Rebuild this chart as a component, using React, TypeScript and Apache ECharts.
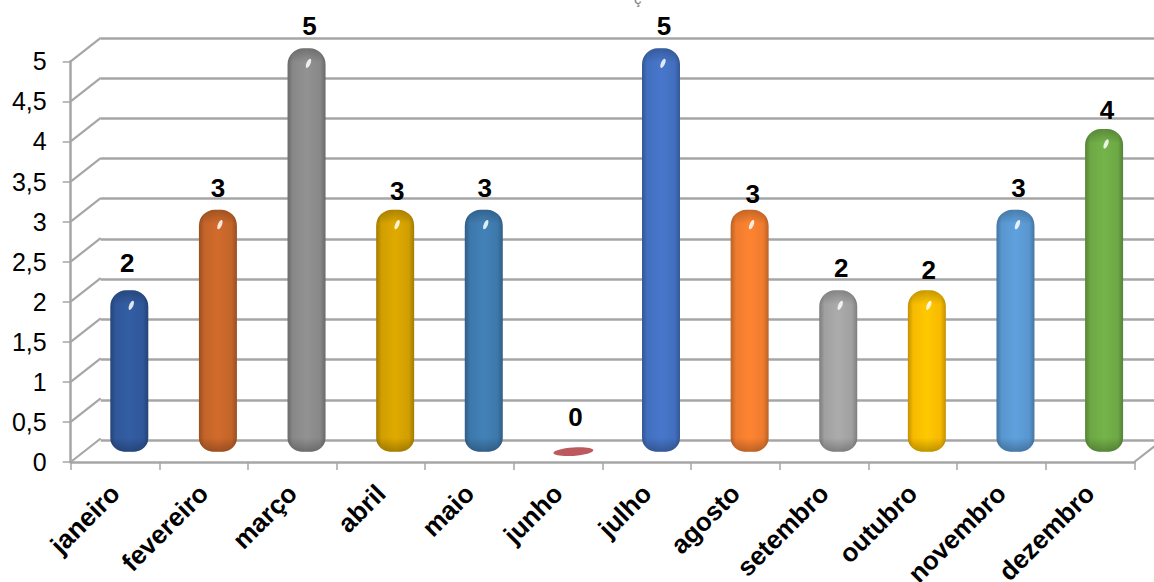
import React, { useEffect, useRef } from "react";
import * as echarts from "echarts";

const months = ["janeiro", "fevereiro", "março", "abril", "maio", "junho", "julho", "agosto", "setembro", "outubro", "novembro", "dezembro"];
const counts = [2, 3, 5, 3, 3, 0, 5, 3, 2, 2, 3, 4];
const barColors = ["#315a9e", "#c9672a", "#8c8c8c", "#d6a300", "#3f7cb0", "#bd5a60", "#4472c4", "#f57f2f", "#a5a5a5", "#ffc000", "#5b9bd5", "#70ad47"];
const wallTicks = [0, 0.5, 1, 1.5, 2, 2.5, 3, 3.5, 4, 4.5, 5];
// Small per-label nudges [dx, dy] that follow the depth of the 3D look.
const labelNudges = [[-2, -9], [0, -4], [3, -4], [2, -1], [1, -4], [3, -17], [3, -4], [3, 2], [3, -4], [2, -2], [3, -4], [3, -1]];

const AXIS_GRAY = "#a6a6a6";
const DEPTH_X = 30;
const DEPTH_Y = -23.5;

function shade(hex: string, factor: number): string {
  const n = parseInt(hex.slice(1), 16);
  const ch = (v: number) => Math.max(0, Math.min(255, Math.round(v * factor)));
  return `rgb(${ch((n >> 16) & 255)},${ch((n >> 8) & 255)},${ch(n & 255)})`;
}

function barFill(hex: string) {
  return new echarts.graphic.LinearGradient(0, 0, 1, 0, [
    { offset: 0, color: shade(hex, 0.76) },
    { offset: 0.14, color: shade(hex, 0.97) },
    { offset: 0.5, color: shade(hex, 1.04) },
    { offset: 0.86, color: shade(hex, 0.97) },
    { offset: 1, color: shade(hex, 0.76) },
  ]);
}

function App() {
  const ref = useRef<HTMLDivElement>(null);

  useEffect(() => {
    const chart = echarts.init(ref.current!, undefined, { renderer: "svg" });
    const font = "'Liberation Sans', Arial, sans-serif";

    chart.setOption({
      animation: false,
      backgroundColor: "#ffffff",
      title: {
        text: "ç",
        left: 629,
        top: -14,
        textStyle: { color: "#7f7f7f", fontSize: 15, fontFamily: font, fontWeight: "normal" },
      },
      grid: [
        { left: 70.7, right: 19.7, top: 61.3, height: 400.7, outerBoundsMode: "none" },
        { left: 100.7, right: -10, top: 37.8, height: 402.2, outerBoundsMode: "none" },
        { left: 85, right: 5.6, top: 48.3, height: 403.4, outerBoundsMode: "none" },
      ],
      xAxis: [
        {
          gridIndex: 0,
          type: "category",
          data: months,
          boundaryGap: true,
          axisLine: { lineStyle: { color: AXIS_GRAY, width: 2.5 } },
          axisTick: { show: true, alignWithLabel: false, length: 8, lineStyle: { color: AXIS_GRAY, width: 1.5 } },
          axisLabel: {
            interval: 0,
            rotate: 45,
            margin: 27,
            color: "#000000",
            fontFamily: font,
            fontSize: 26,
            fontWeight: "bold",
          },
        },
        { gridIndex: 1, type: "category", data: months, show: false },
        { gridIndex: 2, type: "category", data: months, show: false },
      ],
      yAxis: [
        {
          gridIndex: 0,
          type: "value",
          min: 0,
          max: 5,
          interval: 0.5,
          axisLine: { show: true, lineStyle: { color: AXIS_GRAY, width: 2.5 } },
          axisTick: { show: true, length: 8, lineStyle: { color: AXIS_GRAY, width: 1.5 } },
          splitLine: { show: false },
          axisLabel: {
            margin: 24,
            color: "#000000",
            fontFamily: font,
            fontSize: 25,
            formatter: (v: number) => String(v).replace(".", ","),
          },
        },
        {
          gridIndex: 1,
          type: "value",
          min: 0,
          max: 5,
          interval: 0.5,
          axisLine: { show: false },
          axisTick: { show: false },
          axisLabel: { show: false },
          splitLine: { show: true, lineStyle: { color: AXIS_GRAY, width: 2.5, type: "solid" } },
        },
        { gridIndex: 2, type: "value", min: 0, max: 5, show: false, splitLine: { show: false } },
      ],
      series: [
        {
          // Side wall diagonals running from the front axis to the back wall.
          type: "custom",
          xAxisIndex: 0,
          yAxisIndex: 0,
          coordinateSystem: "cartesian2d",
          silent: true,
          z: 1,
          data: wallTicks.map((t) => [0, t]),
          renderItem: (_params: any, api: any) => {
            const [, y] = api.coord([0, api.value(1)]);
            const rect = _params.coordSys;
            const x = rect.x;
            const children: any[] = [
              {
                type: "line",
                shape: { x1: x, y1: y, x2: x + DEPTH_X, y2: y + DEPTH_Y },
                style: { stroke: AXIS_GRAY, lineWidth: 2.2 },
              },
            ];
            if (api.value(1) === 0) {
              const xr = rect.x + rect.width;
              children.push({
                type: "line",
                shape: { x1: xr, y1: y, x2: xr + DEPTH_X, y2: y + DEPTH_Y },
                style: { stroke: AXIS_GRAY, lineWidth: 2.2 },
              });
            }
            return { type: "group", children };
          },
        },
        {
          type: "bar",
          xAxisIndex: 2,
          yAxisIndex: 2,
          barWidth: 38,
          z: 3,
          data: counts.map((value, i) => ({
            value,
            itemStyle: { color: barFill(barColors[i]), borderRadius: [16, 16, 14, 14] },
            label: {
              show: true,
              position: "top",
              offset: labelNudges[i],
              color: "#000000",
              fontFamily: font,
              fontSize: 26,
              fontWeight: "bold",
            },
          })),
        },
        {
          // Bevel shading, gloss spot and the flat disc of a zero-height bar.
          type: "custom",
          xAxisIndex: 2,
          yAxisIndex: 2,
          coordinateSystem: "cartesian2d",
          silent: true,
          z: 4,
          data: counts.map((v, i) => [i, v]),
          renderItem: (_params: any, api: any) => {
            const i = api.value(0);
            const v = api.value(1);
            const [cx, top] = api.coord([i, v]);
            const [, bottom] = api.coord([i, 0]);
            const color = barColors[i];
            if (v === 0) {
              return {
                type: "ellipse",
                x: cx + 1,
                y: bottom,
                rotation: 0.07,
                shape: { cx: 0, cy: 0, rx: 20, ry: 4.2 },
                style: { fill: color },
              };
            }
            const h = bottom - top;
            const band = 14 / h;
            return {
              type: "group",
              children: [
                {
                  type: "rect",
                  shape: { x: cx - 19, y: top, width: 38, height: h, r: [16, 16, 14, 14] },
                  style: {
                    fill: new echarts.graphic.LinearGradient(0, 0, 0, 1, [
                      { offset: 0, color: "rgba(0,0,0,0.22)" },
                      { offset: band, color: "rgba(0,0,0,0)" },
                      { offset: 1 - band, color: "rgba(0,0,0,0)" },
                      { offset: 1, color: "rgba(0,0,0,0.25)" },
                    ]),
                  },
                },
                {
                  type: "ellipse",
                  x: cx + 2,
                  y: top + 15,
                  rotation: -0.4,
                  shape: { cx: 0, cy: 0, rx: 2, ry: 5 },
                  style: { fill: "rgba(255,255,255,0.85)" },
                },
              ],
            };
          },
        },
      ],
    });

    return () => chart.dispose();
  }, []);

  return (
    <div
      ref={ref}
      style={{ position: "absolute", left: 0, top: 0, width: 1154, height: 582, overflow: "hidden" }}
    />
  );
}

export default App;
